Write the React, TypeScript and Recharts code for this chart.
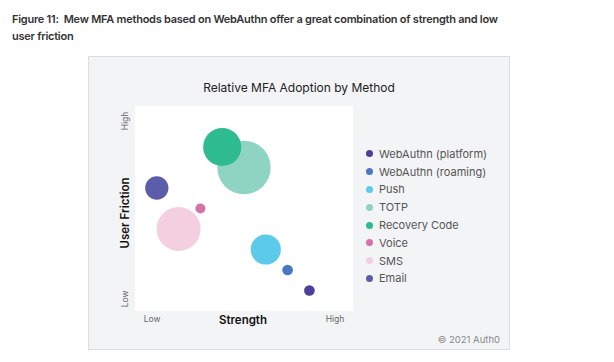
import React from 'react';
import { ScatterChart, Scatter, XAxis, YAxis, ZAxis, CartesianGrid, Legend } from 'recharts';

// legend / draw order
const methods = ['WebAuthn (platform)', 'WebAuthn (roaming)', 'Push', 'TOTP', 'Recovery Code', 'Voice', 'SMS', 'Email'];
const strength = [8, 7, 6, 5, 4, 3, 2, 1];
const friction = [1, 2, 3, 7, 8, 5, 4, 6];
const adoption = [4, 4, 32, 100, 51, 3.5, 68, 19];
const colors = ['#4d3f9c', '#4a76c6', '#5ccaea', '#8fd4c2', '#2fbb90', '#d672a8', '#f3cfe0', '#5b5daa'];

const xTicks = ['Low', 'High'];
const yTicks = ['Low', 'High'];

const FONT = 'Inter, "Noto Sans", sans-serif';

const LegendList: React.FC<any> = ({ payload }) => (
  <div style={{ fontFamily: FONT }}>
    {(payload || []).map((p: any) => (
      <div key={p.value} style={{ display: 'flex', alignItems: 'center', height: 17.8 }}>
        <span style={{ width: 7, height: 7, borderRadius: '50%', background: p.color, marginRight: 6 }} />
        <span style={{ fontSize: 11, color: '#555' }}>{p.value}</span>
      </div>
    ))}
  </div>
);

const App: React.FC = () => {
  return (
    <div style={{ position: 'absolute', left: 0, top: 0, width: 614, height: 362, background: '#fff', fontFamily: FONT }}>
      <div style={{ position: 'absolute', left: 12, top: 11, width: 498, fontSize: 11, fontWeight: 600, color: '#333', lineHeight: '17px', letterSpacing: -0.25 }}>
        Figure 11:&nbsp; Mew MFA methods based on WebAuthn offer a great combination of strength and low user friction
      </div>
      <div style={{ position: 'absolute', left: 88, top: 56, width: 422, height: 294, background: '#f3f4f6', border: '1px solid #dcdddf', boxSizing: 'border-box' }}>
        <div style={{ position: 'absolute', left: 0, width: 420, top: 23, textAlign: 'center', fontSize: 12, color: '#222' }}>
          Relative MFA Adoption by Method
        </div>
        <ScatterChart width={422} height={294} margin={{ top: 50, right: 157, bottom: 39, left: 47 }} style={{ position: 'absolute', left: -1, top: -1 }}>
          <CartesianGrid horizontal={false} vertical={false} fill="#ffffff" stroke="none" />
          <XAxis type="number" dataKey="x" domain={[0, 10]} hide />
          <YAxis type="number" dataKey="y" domain={[0, 10]} hide />
          <ZAxis type="number" dataKey="z" domain={[0, 100]} range={[0, 2240]} />
          {methods.map((m, i) => (
            <Scatter
              key={m}
              name={m}
              data={[{ x: strength[i], y: friction[i], z: adoption[i] }]}
              fill={colors[i]}
              isAnimationActive={false}
            />
          ))}
          <Legend
            layout="vertical"
            align="center"
            verticalAlign="middle"
            itemSorter={(item: any) => methods.indexOf(item.value)}
            content={<LegendList />}
            wrapperStyle={{ left: 278, top: 89, width: 140 }}
          />
        </ScatterChart>
        <div style={{ position: 'absolute', left: 63, top: 257, width: 40, marginLeft: -20, textAlign: 'center', fontSize: 8.5, color: '#666' }}>{xTicks[0]}</div>
        <div style={{ position: 'absolute', left: 154, top: 256, width: 80, marginLeft: -40, textAlign: 'center', fontSize: 11.5, fontWeight: 600, color: '#111' }}>Strength</div>
        <div style={{ position: 'absolute', left: 246, top: 257, width: 40, marginLeft: -20, textAlign: 'center', fontSize: 8.5, color: '#666' }}>{xTicks[1]}</div>
        <div style={{ position: 'absolute', left: 36, top: 156, width: 100, height: 14, marginLeft: -50, marginTop: -7, textAlign: 'center', fontSize: 11.5, fontWeight: 600, color: '#111', transform: 'rotate(-90deg)' }}>User Friction</div>
        <div style={{ position: 'absolute', left: 36, top: 64, width: 40, height: 10, marginLeft: -20, marginTop: -5, textAlign: 'center', fontSize: 8.5, lineHeight: '10px', color: '#666', transform: 'rotate(-90deg)' }}>{yTicks[1]}</div>
        <div style={{ position: 'absolute', left: 36, top: 242, width: 40, height: 10, marginLeft: -20, marginTop: -5, textAlign: 'center', fontSize: 8.5, lineHeight: '10px', color: '#666', transform: 'rotate(-90deg)' }}>{yTicks[0]}</div>
        <div style={{ position: 'absolute', right: 9, top: 277, fontSize: 9.5, color: '#888' }}>© 2021 Auth0</div>
      </div>
    </div>
  );
};

export default App;
